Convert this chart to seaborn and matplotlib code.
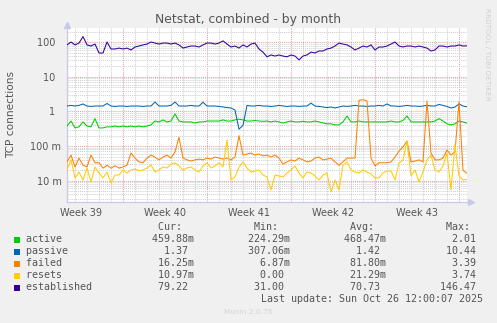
import numpy as np
import pandas as pd
import matplotlib
matplotlib.use("Agg")
import matplotlib.pyplot as plt
from matplotlib.patches import Rectangle
from matplotlib.ticker import FixedLocator, NullLocator
import seaborn as sns

# one reading every 8 hours across the month
hours = np.arange(0, 801, 8)

active = [0.38, 0.53, 0.335, 0.36, 0.50, 0.38, 0.36, 0.62, 0.335, 0.335,
          0.36, 0.36, 0.38, 0.36, 0.38, 0.36, 0.38, 0.36, 0.38, 0.36,
          0.38, 0.41, 0.53, 0.50, 0.57, 0.50, 0.53, 0.85, 0.53, 0.50,
          0.50, 0.50, 0.465, 0.50, 0.50, 0.53, 0.53, 0.53, 0.53, 0.57,
          0.53, 0.53, 0.57, 0.60, 0.57, 0.53, 0.53, 0.55, 0.53, 0.52,
          0.53, 0.50, 0.53, 0.50, 0.465, 0.50, 0.53, 0.50, 0.50, 0.52,
          0.50, 0.50, 0.53, 0.50, 0.465, 0.44, 0.44, 0.41, 0.41, 0.50,
          0.74, 0.50, 0.50, 0.53, 0.50, 0.50, 0.50, 0.50, 0.50, 0.50,
          0.50, 0.53, 0.50, 0.50, 0.55, 0.74, 0.50, 0.50, 0.50, 0.50,
          0.50, 0.50, 0.53, 0.62, 0.53, 0.44, 0.41, 0.44, 0.53, 0.50,
          0.45988]

passive = [1.44, 1.50, 1.44, 1.50, 1.65, 1.44, 1.40, 1.44, 1.44, 1.44,
           1.70, 1.44, 1.40, 1.44, 1.44, 1.40, 1.44, 1.44, 1.44, 1.40,
           1.44, 1.44, 1.88, 1.44, 1.44, 1.44, 1.50, 1.88, 1.44, 1.44,
           1.44, 1.50, 1.44, 1.44, 1.85, 1.44, 1.44, 1.44, 1.40, 1.35,
           1.30, 1.26, 1.10, 0.307, 0.40, 1.50, 1.44, 1.44, 1.50, 1.44,
           1.44, 1.40, 1.44, 1.50, 1.44, 1.40, 1.44, 1.44, 1.40, 1.44,
           1.44, 1.75, 1.44, 1.40, 1.35, 1.30, 1.35, 1.26, 1.35, 1.44,
           1.40, 1.44, 1.50, 1.44, 1.44, 1.40, 1.44, 1.44, 1.50, 1.44,
           1.65, 1.44, 1.44, 1.40, 1.44, 1.50, 1.44, 1.44, 1.40, 1.44,
           1.50, 1.44, 1.44, 1.60, 1.50, 1.40, 1.26, 1.35, 1.65, 1.44,
           1.37]

failed = [0.035, 0.055, 0.025, 0.045, 0.028, 0.025, 0.055, 0.033, 0.033, 0.023,
          0.028, 0.023, 0.027, 0.023, 0.025, 0.028, 0.063, 0.045, 0.035, 0.033,
          0.045, 0.055, 0.048, 0.040, 0.048, 0.055, 0.045, 0.068, 0.18, 0.045,
          0.040, 0.037, 0.040, 0.042, 0.040, 0.045, 0.042, 0.048, 0.045, 0.042,
          0.045, 0.040, 0.048, 0.20, 0.055, 0.059, 0.063, 0.055, 0.059, 0.052,
          0.055, 0.048, 0.055, 0.045, 0.030, 0.035, 0.040, 0.037, 0.045, 0.040,
          0.035, 0.037, 0.045, 0.048, 0.040, 0.042, 0.045, 0.035, 0.028, 0.035,
          0.045, 0.045, 0.045, 2.1, 2.2, 2.0, 0.045, 0.027, 0.033, 0.033,
          0.033, 0.035, 0.048, 0.072, 0.095, 0.14, 0.035, 0.037, 0.040, 0.035,
          2.0, 0.063, 0.040, 0.040, 0.045, 0.077, 0.055, 0.068, 1.9, 0.020,
          0.01625]

resets = [0.0204, 0.040, 0.012, 0.0178, 0.0105, 0.0233, 0.0092, 0.0249, 0.0167, 0.012,
          0.0178, 0.0086, 0.0146, 0.0146, 0.0204, 0.0167, 0.0204, 0.0218, 0.0191, 0.0204,
          0.0233, 0.0284, 0.0178, 0.0204, 0.0249, 0.0233, 0.030, 0.0325, 0.0266, 0.0204,
          0.0233, 0.0249, 0.0204, 0.0178, 0.0266, 0.0325, 0.0233, 0.0266, 0.0325, 0.0249,
          0.15, 0.0105, 0.0128, 0.0249, 0.035, 0.0233, 0.0178, 0.0191, 0.0204, 0.0146,
          0.0128, 0.0054, 0.0146, 0.0137, 0.0128, 0.0167, 0.0204, 0.0266, 0.0167, 0.012,
          0.0178, 0.0167, 0.0137, 0.0105, 0.0146, 0.0167, 0.0047, 0.0105, 0.0054, 0.0284,
          0.035, 0.0204, 0.0178, 0.0167, 0.0204, 0.0178, 0.0156, 0.012, 0.012, 0.0167,
          0.0191, 0.0191, 0.0105, 0.0325, 0.040, 0.14, 0.0137, 0.0204, 0.0092, 0.0178,
          0.040, 0.055, 0.0204, 0.0178, 0.0266, 0.063, 0.0054, 0.11, 0.0137, 0.0105,
          0.01097]

established = [84, 102, 84, 95, 146.47, 84, 78, 89, 49, 49,
               102, 64, 64, 68, 64, 68, 60, 73, 78, 84,
               89, 102, 95, 89, 95, 95, 89, 95, 84, 68,
               73, 78, 78, 73, 84, 95, 95, 89, 95, 110,
               89, 73, 78, 68, 84, 73, 89, 95, 64, 52,
               38, 43, 40, 43, 40, 38, 43, 40, 31.0, 40,
               43, 52, 49, 56, 56, 64, 68, 78, 95, 89,
               84, 73, 60, 68, 78, 73, 84, 60, 73, 73,
               78, 89, 102, 78, 73, 78, 78, 73, 78, 73,
               68, 56, 60, 78, 78, 73, 78, 78, 84, 78,
               79.22]

series_names = ["active", "passive", "failed", "resets", "established"]
series_colors = ["#00CC00", "#0066B3", "#FF8000", "#FFCC00", "#330099"]

week_labels = ["Week 39", "Week 40", "Week 41", "Week 42", "Week 43"]

y_tick_values = [0.01, 0.1, 1, 10, 100]
y_tick_labels = ["10 m", "100 m", "1  ", "10  ", "100  "]

stat_cur = ["459.88m", "1.37 ", "16.25m", "10.97m", "79.22 "]
stat_min = ["224.29m", "307.06m", "6.87m", "0.00 ", "31.00 "]
stat_avg = ["468.47m", "1.42 ", "81.80m", "21.29m", "70.73 "]
stat_max = ["2.01 ", "10.44 ", "3.39 ", "3.74 ", "146.47 "]

last_update = "Last update: Sun Oct 26 12:00:07 2025"

# ---------------------------------------------------------------------------
W, H = 497, 323
TEXT = "#555555"
GRID_MINOR = "#D0D0D0"
GRID_MAJOR = "#E8A0A0"
AXIS = "#C8C8EC"

sns.set_style("white")
plt.rcParams["font.family"] = ["DejaVu Sans"]

fig = plt.figure(figsize=(W / 100, H / 100), dpi=100, facecolor="#F0F0F0")
ax = fig.add_axes([67 / W, (H - 202) / H, 400 / W, 174 / H])
ax.set_facecolor("white")

df = pd.DataFrame({
    "hour": np.tile(hours, len(series_names)),
    "series": np.repeat(series_names, len(hours)),
    "value": np.concatenate([active, passive, failed, resets, established]),
})

sns.lineplot(data=df, x="hour", y="value", hue="series", hue_order=series_names,
             palette=dict(zip(series_names, series_colors)), linewidth=0.75,
             estimator=None, sort=False, legend=False, ax=ax, zorder=3)

ax.set_yscale("log")
ax.set_xlim(0, 800)
ax.set_ylim(10 ** -2.616, 10 ** 2.413)

# grid: dotted grey per day / per sub-decade, dotted red per week / per decade
dot = (0, (1, 1))
first_week = 112
for h in range(first_week % 24, 801, 24):
    major = (h - first_week) % 168 == 0
    ax.axvline(h, color=GRID_MAJOR if major else GRID_MINOR, lw=0.75,
               ls=dot, zorder=1)
for d in range(-3, 3):
    for m in range(1, 10):
        v = m * 10.0 ** d
        if 10 ** -2.616 < v < 10 ** 2.413:
            ax.axhline(v, color=GRID_MAJOR if m == 1 else GRID_MINOR, lw=0.75,
                       ls=dot, zorder=1)

ax.xaxis.set_major_locator(FixedLocator([first_week - 84 + 168 * k for k in range(5)]))
ax.set_xticklabels(week_labels)
ax.xaxis.set_minor_locator(NullLocator())
ax.yaxis.set_major_locator(FixedLocator(y_tick_values))
ax.set_yticklabels(y_tick_labels)
ax.yaxis.set_minor_locator(NullLocator())
ax.tick_params(axis="both", length=0, labelsize=7, labelcolor=TEXT)
ax.tick_params(axis="y", pad=4)
ax.tick_params(axis="x", pad=4)
ax.set_xlabel("")
ax.set_ylabel("")

for side in ("top", "right"):
    ax.spines[side].set_visible(False)
for side in ("left", "bottom"):
    ax.spines[side].set_color(AXIS)
    ax.spines[side].set_linewidth(0.9)
ax.plot([0], [1.02], marker="^", ms=4.5, color=AXIS, transform=ax.transAxes,
        clip_on=False)
ax.plot([1.011], [0], marker=">", ms=4.5, color=AXIS, transform=ax.transAxes,
        clip_on=False)

fig.text(248 / W, 1 - 19 / H, "Netstat, combined - by month", ha="center",
         va="center", fontsize=8.9, color=TEXT)
fig.text(11 / W, 1 - 115 / H, "TCP connections", rotation=90, ha="center",
         va="center", fontsize=7.6, color=TEXT)
fig.text(487 / W, 1 - 8 / H, "RRDTOOL / TOBI OETIKER", rotation=270,
         ha="center", va="top", fontsize=5.2, color="#D0D0D0")

# legend table
mono = dict(family="DejaVu Sans Mono", fontsize=7.2, color=TEXT)
header = " " * 22 + "Cur:" + " " * 12 + "Min:" + " " * 12 + "Avg:" + " " * 12 + "Max:"
fig.text(26 / W, 1 - 227 / H, header, ha="left", va="center", **mono)
for k, name in enumerate(series_names):
    yc = 239.5 + 12 * k
    row = f"{name:<21}{stat_cur[k]:>7}{stat_min[k]:>16}{stat_avg[k]:>16}{stat_max[k]:>16}"
    fig.text(26 / W, 1 - yc / H, row, ha="left", va="center", **mono)
    fig.add_artist(Rectangle((14 / W, 1 - (yc + 3) / H), 6 / W, 6 / H,
                             transform=fig.transFigure, facecolor=series_colors[k],
                             edgecolor="none"))
fig.text(483 / W, 1 - 299.5 / H, last_update, ha="right", va="center", **mono)
fig.text(248 / W, 1 - 312 / H, "Munin 2.0.76", ha="center", va="center",
         fontsize=5.3, color="#D4D4D4")

fig.savefig("out.png", dpi=100, facecolor=fig.get_facecolor())
